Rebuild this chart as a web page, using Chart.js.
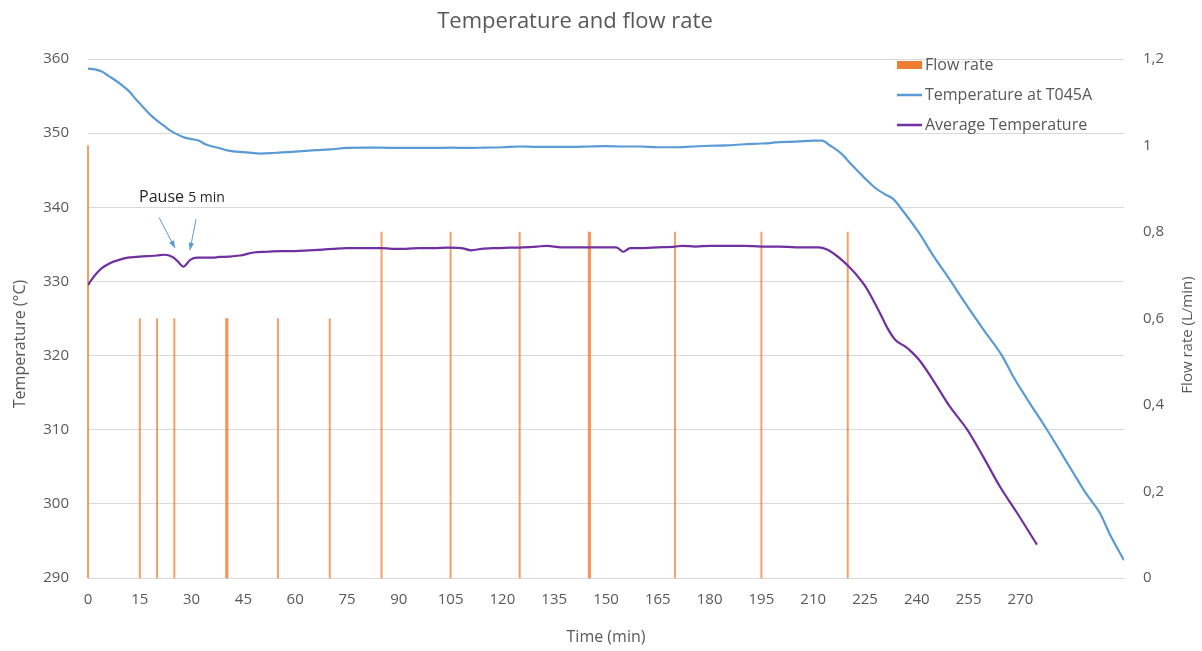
<!DOCTYPE html>
<html>
<head>
<meta charset="utf-8">
<script src="https://cdn.jsdelivr.net/npm/chart.js@4/dist/chart.umd.min.js"></script>
<style>
  html, body { margin: 0; padding: 0; background: #fff; }
  #wrap { width: 1202px; height: 651px; position: relative; }
</style>
</head>
<body>
<div id="wrap"><canvas id="tempFlowChart"></canvas></div>
<script>
const timeTicks = [0, 15, 30, 45, 60, 75, 90, 105, 120, 135, 150, 165, 180, 195, 210, 225, 240, 255, 270];

const flowTime = [0, 15, 20, 25, 40, 40.4, 55, 70, 85, 105, 125, 145, 145.4, 170, 195, 220];
const flowRate = [1, 0.6, 0.6, 0.6, 0.6, 0.6, 0.6, 0.6, 0.8, 0.8, 0.8, 0.8, 0.8, 0.8, 0.8, 0.8];

const t045aTime = [0, 2, 4, 6, 8, 10, 12, 14, 16, 18, 20, 22, 24, 26, 28, 30, 32, 34, 36, 38, 40, 43, 46, 50, 53, 56, 60, 63, 66, 70, 75, 80, 85, 90, 95, 100, 105, 110, 115, 120, 125, 130, 135, 140, 145, 150, 155, 160, 165, 170, 175, 180, 185, 190, 195, 198, 200, 205, 210, 212.5, 215, 218, 221, 225, 228, 231, 233, 236, 240.7, 245, 249.6, 253.4, 259.3, 264.8, 268, 272, 277.7, 281, 285.3, 289, 293.1, 296, 300];
const t045aTemp = [358.7, 358.6, 358.3, 357.7, 357.1, 356.4, 355.6, 354.5, 353.5, 352.5, 351.7, 351.0, 350.3, 349.8, 349.4, 349.2, 349.0, 348.5, 348.2, 348.0, 347.7, 347.5, 347.4, 347.25, 347.3, 347.4, 347.5, 347.6, 347.7, 347.8, 348.0, 348.05, 348.05, 348.0, 348.0, 348.0, 348.05, 348.0, 348.05, 348.1, 348.2, 348.15, 348.15, 348.15, 348.2, 348.25, 348.2, 348.2, 348.1, 348.1, 348.2, 348.3, 348.35, 348.5, 348.6, 348.7, 348.8, 348.85, 349.0, 349.0, 348.3, 347.3, 345.8, 343.9, 342.6, 341.7, 341.2, 339.5, 336.5, 333.3, 330.2, 327.5, 323.5, 319.9, 317.1, 314.1, 310.0, 307.5, 304.2, 301.4, 298.7, 295.8, 292.4];

const avgTime = [0, 1, 2.5, 4, 6.5, 9, 11.5, 14, 17, 20, 22, 24.5, 26, 27.6, 29.6, 31.6, 34, 36, 38, 41, 44, 48, 52, 56, 60, 64, 68, 71, 75, 80, 85, 88, 92, 96, 100, 104, 108, 111, 114, 118, 122, 126, 130, 133, 137, 140, 145, 150, 153, 155, 157, 160, 165, 170, 172, 176, 180, 185, 190, 195, 200, 205, 211.6, 214, 216.4, 218.5, 220.3, 222.5, 225, 227, 230, 231.5, 233.8, 236.7, 238, 240.7, 244.7, 249.6, 254.6, 259.3, 264.1, 269, 274.8];
const avgTemp = [329.5, 330.2, 331.1, 331.8, 332.5, 332.9, 333.2, 333.3, 333.4, 333.5, 333.6, 333.3, 332.7, 332.0, 332.9, 333.2, 333.2, 333.2, 333.3, 333.35, 333.5, 333.9, 334.0, 334.1, 334.1, 334.2, 334.3, 334.4, 334.5, 334.5, 334.5, 334.4, 334.4, 334.5, 334.5, 334.55, 334.5, 334.2, 334.4, 334.5, 334.55, 334.6, 334.7, 334.8, 334.6, 334.6, 334.6, 334.6, 334.6, 334.0, 334.5, 334.5, 334.6, 334.7, 334.8, 334.7, 334.8, 334.8, 334.8, 334.7, 334.7, 334.6, 334.6, 334.3, 333.6, 332.8, 332.0, 330.9, 329.4, 327.8, 325.1, 323.7, 322.1, 321.2, 320.7, 319.4, 316.7, 313.1, 310.0, 306.3, 302.3, 298.8, 294.5];

// annotation, in data units (time, temperature)
const pauseLabel = { t: 14.8, temp: 341.5 };
const pauseArrows = [
  { from: [20.6, 338.6], to: [25.2, 334.5] },
  { from: [31.3, 338.4], to: [29.5, 334.2] }
];

const textColor = '#595959';
const gridColor = '#d9d9d9';
const fontFamily = '"Open Sans", sans-serif';

Chart.defaults.font.family = fontFamily;
Chart.defaults.color = textColor;

const toPoints = (xs, ys) => xs.map((x, i) => ({ x, y: ys[i] }));

const overlayPlugin = {
  id: 'overlay',
  afterDatasetsDraw(chart) {
    const { ctx, scales: { x, y } } = chart;
    ctx.save();

    // chart title and axis titles
    ctx.fillStyle = textColor;
    ctx.textAlign = 'center';
    ctx.textBaseline = 'middle';
    ctx.font = '22px ' + fontFamily;
    ctx.fillText('Temperature and flow rate', 575, 22);

    ctx.font = '16px ' + fontFamily;
    ctx.fillText('Time (min)', 606, 637);

    ctx.save();
    ctx.translate(20, 344);
    ctx.rotate(-Math.PI / 2);
    ctx.fillText('Temperature (°C)', 0, 0);
    ctx.restore();

    ctx.save();
    ctx.translate(1188, 335);
    ctx.rotate(-Math.PI / 2);
    ctx.font = '15px ' + fontFamily;
    ctx.fillText('Flow rate (L/min)', 0, 0);
    ctx.restore();

    // pause annotation
    const lx = x.getPixelForValue(pauseLabel.t);
    const ly = y.getPixelForValue(pauseLabel.temp);
    ctx.fillStyle = '#262626';
    ctx.textBaseline = 'alphabetic';
    ctx.textAlign = 'left';
    ctx.font = '16px ' + fontFamily;
    ctx.fillText('Pause', lx, ly + 6);
    const w = ctx.measureText('Pause ').width;
    ctx.font = '14px ' + fontFamily;
    ctx.fillText('5 min', lx + w, ly + 6);

    ctx.strokeStyle = '#5B9BD5';
    ctx.fillStyle = '#5B9BD5';
    ctx.lineWidth = 1;
    pauseArrows.forEach(a => {
      const x0 = x.getPixelForValue(a.from[0]), y0 = y.getPixelForValue(a.from[1]);
      const x1 = x.getPixelForValue(a.to[0]), y1 = y.getPixelForValue(a.to[1]);
      const ang = Math.atan2(y1 - y0, x1 - x0);
      ctx.beginPath();
      ctx.moveTo(x0, y0);
      ctx.lineTo(x1, y1);
      ctx.stroke();
      ctx.beginPath();
      ctx.moveTo(x1, y1);
      ctx.lineTo(x1 - 8 * Math.cos(ang - 0.35), y1 - 8 * Math.sin(ang - 0.35));
      ctx.lineTo(x1 - 8 * Math.cos(ang + 0.35), y1 - 8 * Math.sin(ang + 0.35));
      ctx.closePath();
      ctx.fill();
    });

    // legend inside the plot, top right
    const lgX = 897, lgY = 65, rowGap = 30;
    ctx.font = '16px ' + fontFamily;
    ctx.textBaseline = 'middle';
    chart.data.datasets.forEach((ds, i) => {
      const ry = lgY + i * rowGap;
      if (ds.type === 'bar') {
        ctx.fillStyle = '#ED7D31';
        ctx.fillRect(lgX, ry - 4, 25, 8);
      } else {
        ctx.strokeStyle = ds.borderColor;
        ctx.lineWidth = 2.5;
        ctx.beginPath();
        ctx.moveTo(lgX, ry);
        ctx.lineTo(lgX + 25, ry);
        ctx.stroke();
      }
      ctx.fillStyle = textColor;
      ctx.fillText(ds.label, lgX + 28, ry);
    });
    ctx.restore();
  }
};

new Chart(document.getElementById('tempFlowChart'), {
  type: 'bar',
  data: {
    datasets: [
      {
        type: 'bar',
        label: 'Flow rate',
        data: toPoints(flowTime, flowRate),
        yAxisID: 'y1',
        backgroundColor: 'rgba(237, 125, 49, 0.75)',
        barThickness: 1.3,
        clip: false,
        order: 3
      },
      {
        type: 'line',
        label: 'Temperature at T045A',
        data: toPoints(t045aTime, t045aTemp),
        yAxisID: 'y',
        borderColor: '#5B9BD5',
        borderWidth: 2.2,
        pointRadius: 0,
        cubicInterpolationMode: 'monotone',
        order: 2
      },
      {
        type: 'line',
        label: 'Average Temperature',
        data: toPoints(avgTime, avgTemp),
        yAxisID: 'y',
        borderColor: '#7030A0',
        borderWidth: 2.2,
        pointRadius: 0,
        cubicInterpolationMode: 'monotone',
        order: 1
      }
    ]
  },
  options: {
    responsive: true,
    maintainAspectRatio: false,
    animation: false,
    layout: { padding: { top: 59, left: 0, right: 0, bottom: 0 } },
    plugins: {
      legend: { display: false },
      tooltip: { enabled: false },
      title: { display: false }
    },
    scales: {
      x: {
        type: 'linear',
        offset: false,
        min: 0,
        max: 300,
        afterBuildTicks: s => { s.ticks = timeTicks.map(v => ({ value: v })); },
        afterFit: s => { s.height = 73; },
        ticks: { font: { size: 15 }, color: textColor, padding: 13, maxRotation: 0, autoSkip: false },
        grid: { display: false, drawTicks: false, offset: false },
        border: { display: true, color: gridColor }
      },
      y: {
        position: 'left',
        min: 290,
        max: 360,
        afterFit: s => { s.width = 88; },
        ticks: { stepSize: 10, font: { size: 15 }, color: textColor, padding: 19 },
        grid: { color: gridColor, drawTicks: false },
        border: { display: false }
      },
      y1: {
        position: 'right',
        min: 0,
        max: 1.2,
        afterFit: s => { s.width = 78; },
        ticks: {
          stepSize: 0.2,
          font: { size: 15 },
          color: textColor,
          padding: 19,
          callback: v => String(Math.round(v * 10) / 10).replace('.', ',')
        },
        grid: { display: false, drawTicks: false },
        border: { display: false }
      }
    }
  },
  plugins: [overlayPlugin]
});
</script>
</body>
</html>
